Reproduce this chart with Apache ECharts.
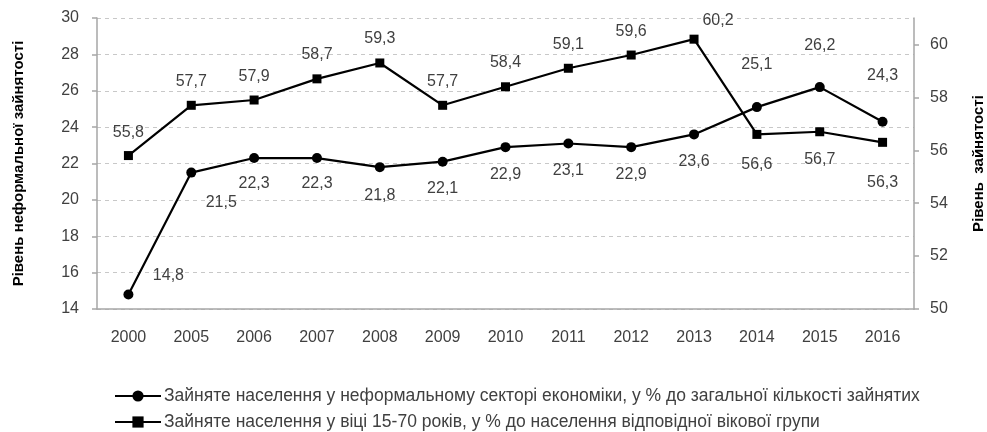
<!DOCTYPE html>
<html><head><meta charset="utf-8">
<script src="https://cdn.jsdelivr.net/npm/echarts@6/dist/echarts.min.js"></script>
<style>html,body{margin:0;padding:0;background:#fff}#c{width:987px;height:432px}</style>
</head><body><div id="c"></div>
<script>
const years = ['2000','2005','2006','2007','2008','2009','2010','2011','2012','2013','2014','2015','2016'];
const informal = [14.8, 21.5, 22.3, 22.3, 21.8, 22.1, 22.9, 23.1, 22.9, 23.6, 25.1, 26.2, 24.3];
const employment = [55.8, 57.7, 57.9, 58.7, 59.3, 57.7, 58.4, 59.1, 59.6, 60.2, 56.6, 56.7, 56.3];
const leftTicks = [14,16,18,20,22,24,26,28,30];
const rightTicks = [50,52,54,56,58,60];
const nameInformal = 'Зайняте населення у неформальному секторі економіки, у % до загальної кількості зайнятих';
const nameEmployment = 'Зайняте населення у віці 15-70 років, у % до населення відповідної вікової групи';

const offInformal = [[40,-19],[30,30],[0,26],[0,26],[0,28],[0,27],[0,27],[0,27],[0,27],[0,27],[0,-43],[0,-42],[0,-46]];
const offEmployment = [[0,-23],[0,-24],[0,-23],[0,-24],[0,-24],[0,-24],[0,-24],[0,-24],[0,-23],[24,-19],[0,30],[0,28],[0,40]];

const FONT = 'Liberation Sans, Arial, sans-serif';
const fmt = v => String(v).replace('.', ',');
function build(vals, offs){
  return vals.map((v,i)=>({value:v, label:{offset:offs[i]}}));
}
const legendBase = {
  left:109, itemWidth:46, itemHeight:14, itemGap:6, padding:[5,5,5,5],
  textStyle:{fontFamily:FONT, fontSize:17.5, color:'#404040', padding:[0,0,0,-2]}
};
const chart = echarts.init(document.getElementById('c'), null, {renderer:'canvas'});
chart.setOption({
  animation:false,
  backgroundColor:'#fff',
  textStyle:{fontFamily:FONT},
  grid:{left:97, right:73, top:18, bottom:123, containLabel:false, outerBoundsMode:'none'},
  legend:[
    Object.assign({}, legendBase, {top:382, data:[nameInformal]}),
    Object.assign({}, legendBase, {top:408, data:[nameEmployment]})
  ],
  xAxis:{
    type:'category', data:years, boundaryGap:true,
    axisLine:{lineStyle:{color:'#a6a6a6', width:1.5}},
    axisTick:{length:5, lineStyle:{color:'#a6a6a6', width:1.5}},
    axisLabel:{color:'#404040', fontSize:16, margin:21, fontFamily:FONT}
  },
  yAxis:[{
    type:'value', min:14, max:30, interval:2, position:'left',
    name:'Рівень неформальної зайнятості', nameLocation:'middle', nameGap:71, nameRotate:90,
    nameTextStyle:{fontWeight:'bold', fontSize:15, color:'#000', fontFamily:FONT},
    axisLine:{show:true, lineStyle:{color:'#a6a6a6', width:1.5}},
    axisTick:{show:true, length:5, lineStyle:{color:'#a6a6a6', width:1.5}},
    axisLabel:{color:'#404040', fontSize:16, margin:18, fontFamily:FONT},
    splitLine:{show:true, lineStyle:{color:'#c8c8c8', type:[4,4], width:1}}
  },{
    type:'value', min:50, max:61, position:'right',
    name:'Рівень  зайнятості', nameLocation:'middle', nameGap:57, nameRotate:90,
    nameTextStyle:{fontWeight:'bold', fontSize:15, color:'#000', fontFamily:FONT},
    axisLine:{show:true, lineStyle:{color:'#a6a6a6', width:1.5}},
    axisTick:{show:true, length:5, customValues:rightTicks, lineStyle:{color:'#a6a6a6', width:1.5}},
    axisLabel:{color:'#404040', fontSize:16, margin:16, customValues:rightTicks, fontFamily:FONT},
    splitLine:{show:false}
  }],
  series:[{
    name:nameInformal, type:'line', yAxisIndex:0,
    data:build(informal, offInformal),
    symbol:'circle', symbolSize:10,
    lineStyle:{color:'#000', width:2.2}, itemStyle:{color:'#000'},
    label:{show:true, position:'inside', color:'#404040', fontSize:16, fontFamily:FONT, formatter:p=>fmt(p.value)}
  },{
    name:nameEmployment, type:'line', yAxisIndex:1,
    data:build(employment, offEmployment),
    symbol:'rect', symbolSize:9,
    lineStyle:{color:'#000', width:2.2}, itemStyle:{color:'#000'},
    label:{show:true, position:'inside', color:'#404040', fontSize:16, fontFamily:FONT, formatter:p=>fmt(p.value)}
  }]
});
</script></body></html>
